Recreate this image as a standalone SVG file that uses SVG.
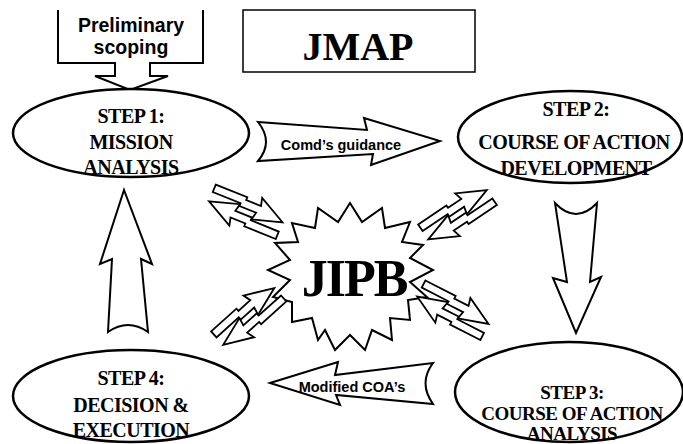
<svg xmlns="http://www.w3.org/2000/svg" width="683" height="444" viewBox="0 0 683 444">
<style>
.shape{fill:#fff;stroke:#000;stroke-width:2;stroke-linejoin:miter}
.ell{fill:#fff;stroke:#000;stroke-width:2.5}
.step{font-weight:bold;font-size:20px;letter-spacing:-0.5px;text-anchor:middle;fill:#000}
.lbl{font-family:'Liberation Sans',Arial,sans-serif;font-weight:700;font-size:14.5px;text-anchor:middle;fill:#000}
.big{font-weight:bold;text-anchor:middle;fill:#000}
.pa{fill:#fff;stroke:#000;stroke-width:1.8;stroke-linejoin:miter}
</style>
<defs>
<g id="pair">
<polygon class="pa" points="0,-14 34,-14 34,-11 50,-11 48,-19 76,-4 46,5 48,-3 30,-3 30,-6 0,-6"/>
<polygon class="pa" points="76,14 42,14 42,11 26,11 28,19 0,4 30,-5 28,3 46,3 46,6 76,6"/>
</g>
</defs>
<rect width="683" height="444" fill="#fff"/>

<g id="prelim">
<path class="shape" stroke-width="1.5" d="M58,10 V63 H115 V76 H95 L130,90 L168,76 H150 V63 H203 V10"/>
<text class="lbl" style="font-size:19.5px" x="131" y="32">Preliminary</text>
<text class="lbl" style="font-size:19.5px" x="131" y="54">scoping</text>
</g>

<g id="jmap">
<rect x="243" y="10" width="232" height="62" fill="#fff" stroke="#000" stroke-width="1.5"/>
<text class="big" font-family="Liberation Serif, Times New Roman, Times, serif" x="358" y="60" font-size="40">JMAP</text>
</g>

<g id="connectors">
<path class="shape" d="M258,122 L367,130 L364,118 L440,141 L371,165 L373,154 L258,161 Q274,142 258,122 Z"/>
<text class="lbl" x="341" y="150">Comd’s guidance</text>
<path class="shape" d="M270,383 L338,362 L335,375 L433,363 Q418,383 433,404 L336,395 L340,405 Z"/>
<text class="lbl" x="352" y="392">Modified COA’s</text>
<path class="shape" d="M555,203 Q576,225 597,203 L590,282 L601,277 L576,333 L553,278 L567,282 Z"/>
<path class="shape" d="M108,332 Q128,318 148,332 L141,259 L152,264 L124,190 L100,264 L112,259 Z"/>
</g>

<g id="jipb">
<polygon class="shape" points="350,203 362,222 382,208 385,228 410,222 402,242 423,245 410,258 433,270 410,282 427,297 408,300 410,320 390,318 392,340 372,330 365,350 350,335 335,350 325,330 318,340 312,318 292,322 292,302 273,297 290,280 268,270 290,260 275,243 298,242 292,223 315,228 318,208 338,222"/>
<text class="big" font-family="Liberation Serif, Times New Roman, Times, serif" x="354" y="296" font-size="52" letter-spacing="-2">JIPB</text>
</g>

<g id="jipb-links">
<use href="#pair" transform="translate(281,226) rotate(202)"/>
<use href="#pair" transform="translate(426,236) rotate(-34)"/>
<use href="#pair" transform="translate(277,291) rotate(138)"/>
<use href="#pair" transform="translate(419,293) rotate(27)"/>
</g>

<g id="step1" font-family="Liberation Serif, Times New Roman, Times, serif">
<ellipse class="ell" cx="131" cy="133" rx="118" ry="44"/>
<text class="step" x="131" y="123">STEP 1:</text>
<text class="step" x="131" y="149">MISSION</text>
<text class="step" x="131" y="174">ANALYSIS</text>
</g>

<g id="step2" font-family="Liberation Serif, Times New Roman, Times, serif">
<ellipse class="ell" cx="570" cy="137" rx="112" ry="46"/>
<text class="step" x="576" y="116">STEP 2:</text>
<text class="step" x="574" y="149">COURSE OF ACTION</text>
<text class="step" x="576" y="175">DEVELOPMENT</text>
</g>

<g id="step3" font-family="Liberation Serif, Times New Roman, Times, serif">
<ellipse class="ell" cx="569" cy="392" rx="114" ry="50"/>
<text class="step" style="font-size:19px" x="572" y="399">STEP 3:</text>
<text class="step" style="font-size:19px" x="572" y="420">COURSE OF ACTION</text>
<text class="step" style="font-size:19px" x="572" y="440">ANALYSIS</text>
</g>

<g id="step4" font-family="Liberation Serif, Times New Roman, Times, serif">
<ellipse class="ell" cx="131" cy="396" rx="118" ry="46"/>
<text class="step" x="131" y="385">STEP 4:</text>
<text class="step" x="131" y="412">DECISION &amp;</text>
<text class="step" x="131" y="437">EXECUTION</text>
</g>
</svg>
